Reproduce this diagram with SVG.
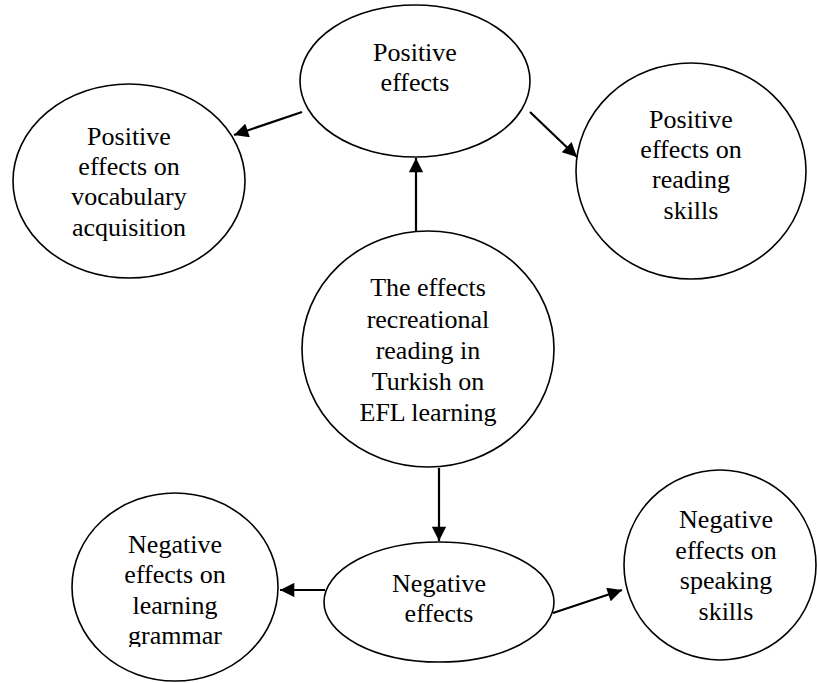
<svg xmlns="http://www.w3.org/2000/svg" width="817" height="683" viewBox="0 0 817 683">
<style>
.n{fill:#fff;stroke:#000;stroke-width:1.6}
.t{font-family:"Liberation Serif","Times New Roman",serif;font-size:26px;fill:#000;text-anchor:middle}
.c{stroke:#000;stroke-width:2.2;fill:none;marker-end:url(#ah)}
</style>
<defs>
<marker id="ah" viewBox="0 0 10 10" refX="10" refY="5" markerWidth="7.5" markerHeight="6.5" markerUnits="strokeWidth" orient="auto">
<path d="M0,0 L10,5 L0,10 z" fill="#000"/>
</marker>
<clipPath id="gc"><rect x="60" y="480" width="240" height="167"/></clipPath>
</defs>
<rect width="817" height="683" fill="#fff"/>
<g id="connectors">
<line class="c" x1="416" y1="231" x2="416" y2="158"/>
<line class="c" x1="302" y1="112" x2="234" y2="135"/>
<line class="c" x1="530" y1="112" x2="577" y2="157"/>
<line class="c" x1="439" y1="468" x2="439" y2="541"/>
<line class="c" x1="325" y1="590" x2="280" y2="590"/>
<line class="c" x1="553" y1="613" x2="622" y2="590"/>
</g>
<g id="node-positive">
<ellipse class="n" cx="415" cy="81" rx="115" ry="76"/>
<text class="t" x="415" y="61">Positive</text>
<text class="t" x="415" y="91">effects</text>
</g>
<g id="node-vocabulary">
<ellipse class="n" cx="129" cy="181" rx="116" ry="97"/>
<text class="t" x="129" y="145">Positive</text>
<text class="t" x="129" y="175">effects on</text>
<text class="t" x="129" y="205">vocabulary</text>
<text class="t" x="129" y="236">acquisition</text>
</g>
<g id="node-reading">
<ellipse class="n" cx="691" cy="171" rx="115" ry="108"/>
<text class="t" x="691" y="128">Positive</text>
<text class="t" x="691" y="158">effects on</text>
<text class="t" x="691" y="188">reading</text>
<text class="t" x="691" y="219">skills</text>
</g>
<g id="node-center">
<ellipse class="n" cx="428" cy="349" rx="126" ry="118"/>
<text class="t" x="428" y="296">The effects</text>
<text class="t" x="428" y="328">recreational</text>
<text class="t" x="428" y="359">reading in</text>
<text class="t" x="428" y="390">Turkish on</text>
<text class="t" x="428" y="421">EFL learning</text>
</g>
<g id="node-negative">
<ellipse class="n" cx="439" cy="602" rx="115" ry="60"/>
<text class="t" x="439" y="592">Negative</text>
<text class="t" x="439" y="622">effects</text>
</g>
<g id="node-grammar">
<ellipse class="n" cx="175" cy="587" rx="103" ry="94"/>
<text class="t" x="175" y="553">Negative</text>
<text class="t" x="175" y="583">effects on</text>
<text class="t" x="175" y="614">learning</text>
<text class="t" x="175" y="644" clip-path="url(#gc)">grammar</text>
</g>
<g id="node-speaking">
<ellipse class="n" cx="720" cy="565" rx="96" ry="95"/>
<text class="t" x="726" y="528">Negative</text>
<text class="t" x="726" y="559">effects on</text>
<text class="t" x="726" y="589">speaking</text>
<text class="t" x="726" y="620">skills</text>
</g>
</svg>
